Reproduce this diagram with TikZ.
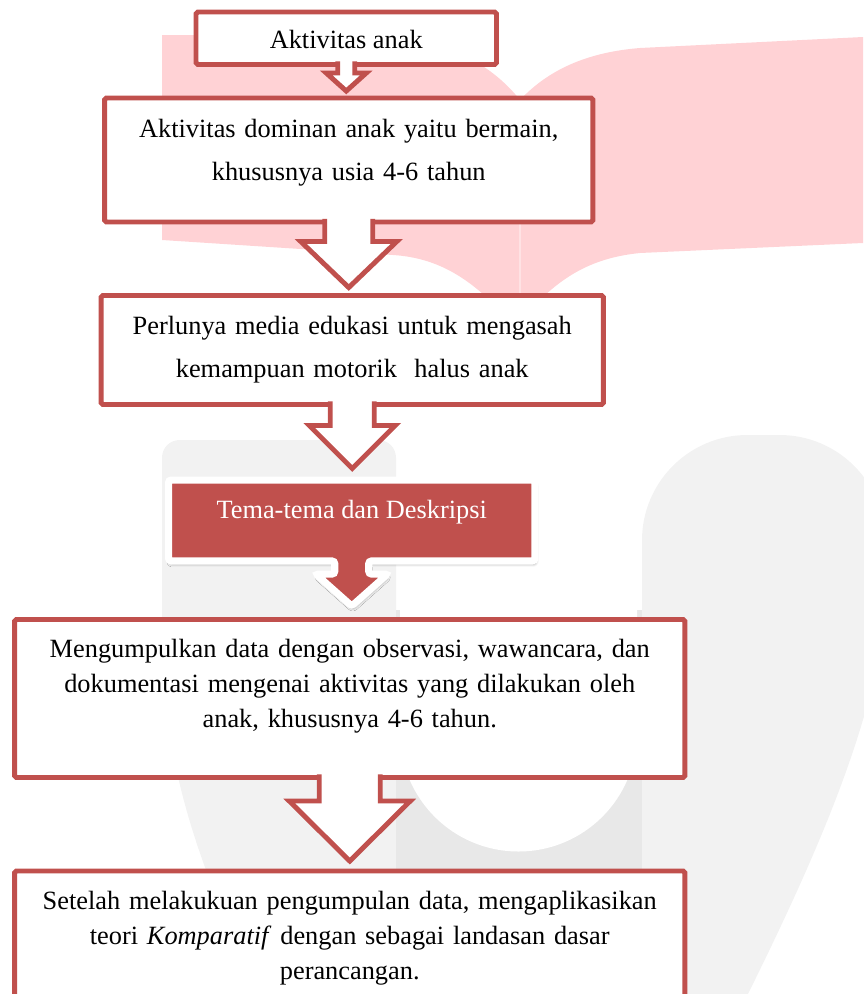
\documentclass[tikz,border=0pt]{standalone}
\usepackage{fontspec}
\setmainfont{Liberation Serif}
\usetikzlibrary{calc,shadows.blur}

\definecolor{boxred}{HTML}{C0504D}
\definecolor{logopink}{HTML}{FFD2D5}
\definecolor{logoline}{HTML}{FFE2E4}
\definecolor{logogray}{HTML}{F2F2F2}
\definecolor{logodark}{HTML}{E8E8E8}

\tikzset{
  flowbox/.style={draw=boxred, line width=2.8pt, fill=white, rounded corners=1pt,
    inner sep=0pt, outer sep=0pt},
  flowtext/.style={anchor=base, align=center, inner sep=0pt,
    font=\fontsize{15}{20}\selectfont},
  widetext/.style={flowtext, font=\fontsize{15}{25}\selectfont},
  hollowarrow/.style={draw=boxred, line width=2.8pt, fill=white, line join=miter},
  callout/.style={fill=boxred, draw=white, line width=4pt, rounded corners=1.5pt,
    blur shadow={shadow xshift=0.6pt, shadow yshift=-1.8pt,
      shadow blur radius=1.6pt, shadow opacity=40}},
}

% block arrow: [style]{from}{to}{shaft half width}{head half width}{head length}{gap}
\newcommand{\blockarrow}[7][hollowarrow]{%
  \filldraw[#1] ($(#2.south)+(-#4,-3)$)
    -- ($(#2.south |- #3.north)+(-#4,-#7-#6)$)
    -- ($(#2.south |- #3.north)+(-#5,-#7-#6)$)
    -- ($(#2.south |- #3.north)+(0,-#7)$)
    -- ($(#2.south |- #3.north)+(#5,-#7-#6)$)
    -- ($(#2.south |- #3.north)+(#4,-#7-#6)$)
    -- ($(#2.south)+(#4,-3)$);
}

\begin{document}
\begin{tikzpicture}[x=0.02cm, y=-0.02cm]
  \useasboundingbox (0,0) rectangle (863,994);

  % logo behind the chart, red part
  \fill[logopink] (162,35) -- (380,35) .. controls (440,37) and (490,62) .. (520,100)
    .. controls (550,68) and (590,52) .. (640,48) -- (863,37) -- (863,243)
    -- (640,253) .. controls (590,258) and (560,278) .. (530,310) -- (500,310)
    .. controls (470,280) and (440,258) .. (393,255) -- (162,240) -- cycle;
  \draw[logoline, line width=0.6pt] (520,100) -- (520,310);

  % logo behind the chart, grey part
  \fill[logogray] (162,640) [rounded corners=10] -- (162,440) -- (396,440)
    [sharp corners] -- (396,1010) -- (270,1010) .. controls (200,880) and (162,760) .. (162,640);
  \fill[logodark] (396,610) rectangle (642,1010);
  \fill[logogray] (642,1010) [rounded corners=60] -- (642,435) -- (885,435)
    [sharp corners] -- (885,620) .. controls (870,730) and (820,850) .. (740,1010) -- cycle;
  \fill[white] (400,610) -- (400,733) arc[start angle=180, end angle=0, radius=118.5]
    -- (637,610) -- cycle;

  % boxes
  \node[flowbox, minimum width=6.01cm, minimum height=1.05cm] (act) at (346.25,38.25) {};
  \node[flowbox, minimum width=9.77cm, minimum height=2.48cm] (play) at (348.75,160) {};
  \node[flowbox, minimum width=10.05cm, minimum height=2.18cm] (media) at (352.25,350) {};
  \node[inner sep=0pt, outer sep=0pt, minimum width=7.33cm, minimum height=1.62cm] (theme) at (351.75,520.5) {};
  \node[flowbox, minimum width=13.41cm, minimum height=3.16cm] (data) at (349.75,698.5) {};
  \node[flowbox, minimum width=13.41cm, minimum height=2.98cm] (theory) at (349.75,945.5) {};

  % arrows between the boxes
  \blockarrow{act}{play}{8.5}{20}{18}{7}
  \blockarrow{play}{media}{24}{48}{46}{8}
  \blockarrow{media}{theme}{22}{43}{43}{11.5}
  \blockarrow{data}{theory}{30.5}{60.5}{60}{10}

  % red callout with its own arrow
  \filldraw[callout] (theme.north west) -- (theme.north east) -- (theme.south east)
    -- ($(theme.south)+(17,0)$) -- ($(theme.south |- data.north)+(17,-45.5)$)
    -- ($(theme.south |- data.north)+(36,-45.5)$) -- ($(theme.south |- data.north)+(0,-13.5)$)
    -- ($(theme.south |- data.north)+(-36,-45.5)$) -- ($(theme.south |- data.north)+(-17,-45.5)$)
    -- ($(theme.south)+(-17,0)$) -- (theme.south west) -- cycle;

  % texts
  \node[flowtext] (actlabel) at (346.25,48) {Aktivitas anak};
  \node[widetext, text width=9.5cm] (playlabel) at (348.75,137)
    {Aktivitas dominan anak yaitu bermain,\\ khususnya usia 4-6 tahun};
  \node[widetext, text width=9.8cm] (medialabel) at (352.25,334)
    {Perlunya media edukasi untuk mengasah\\ kemampuan motorik\ \ halus anak};
  \node[flowtext, text=white] (themelabel) at (351.75,518) {Tema-tema dan Deskripsi};
  \node[flowtext, text width=13cm] (datalabel) at (349.75,657)
    {Mengumpulkan data dengan observasi, wawancara, dan\\ dokumentasi mengenai aktivitas yang dilakukan oleh\\ anak, khususnya 4-6 tahun.};
  \node[flowtext, text width=13cm] (theorylabel) at (349.75,909)
    {Setelah melakukuan pengumpulan data, mengaplikasikan\\ teori \textit{Komparatif} dengan sebagai landasan dasar\\ perancangan.};
\end{tikzpicture}
\end{document}
